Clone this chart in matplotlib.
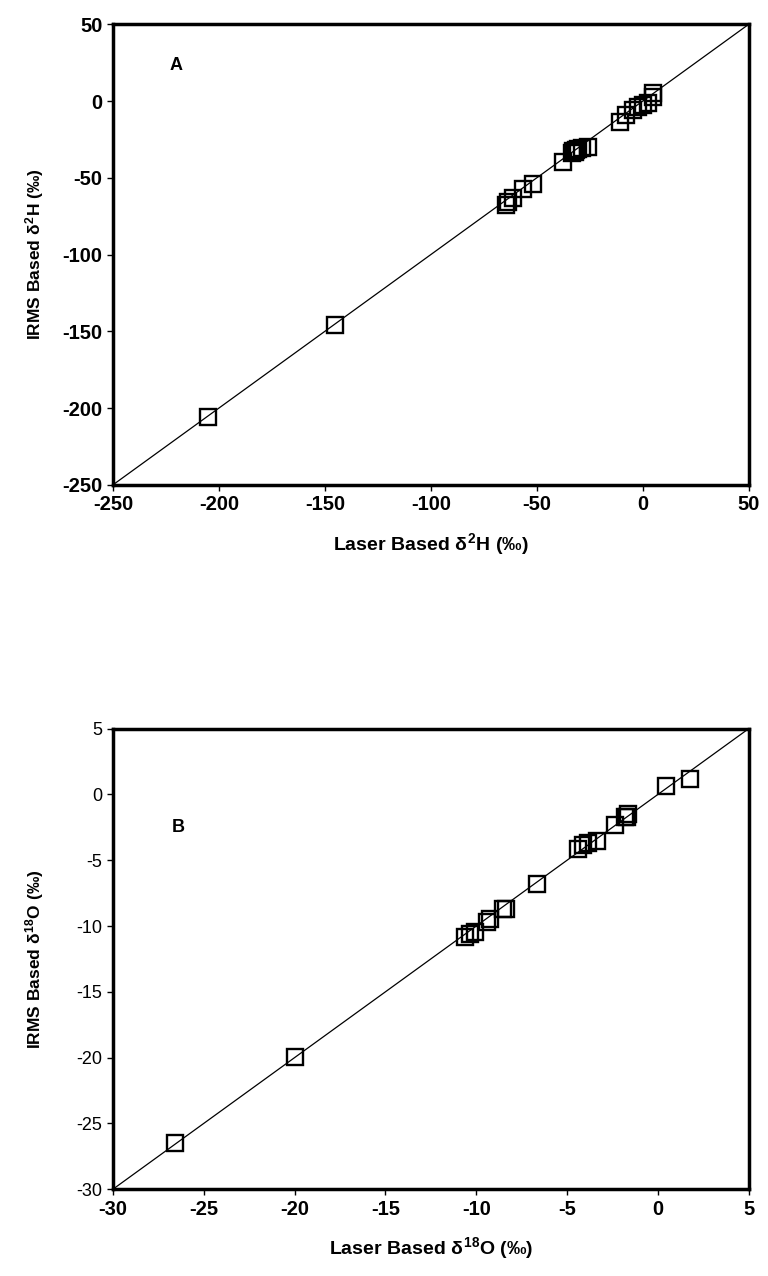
import matplotlib.pyplot as plt

plt.rcParams['font.family'] = ['Liberation Sans', 'DejaVu Sans']
plt.rcParams['mathtext.fontset'] = 'custom'
plt.rcParams['mathtext.rm'] = 'Liberation Sans:bold'
plt.rcParams['mathtext.it'] = 'Liberation Sans:bold'

# panel A: delta 2H, laser vs IRMS
h_laser = [-205.0, -145.3, -64.6, -63.5, -61.2, -56.7, -51.7, -37.6, -33.6, -33.0, -32.1,
           -31.5, -30.5, -28.9, -25.8, -10.8, -7.7, -4.6, -2.2, 0.1, 2.5, 4.9, 4.9]
h_irms = [-205.5, -145.8, -67.8, -65.6, -63.4, -57.5, -54.1, -39.6, -34.1, -32.5, -33.1,
          -32.0, -31.5, -30.9, -30.2, -13.6, -9.2, -6.0, -3.8, -2.7, -1.6, 4.9, 2.7]

# panel B: delta 18O
o_laser = [-26.6, -19.98, -10.63, -10.35, -10.08, -9.43, -9.25, -8.52, -8.37, -6.68,
           -4.39, -4.12, -3.84, -3.38, -2.37, -1.73, -1.65, -1.8, 0.47, 1.76]
o_irms = [-26.5, -19.96, -10.8, -10.59, -10.47, -9.7, -9.45, -8.7, -8.7, -6.8,
          -4.13, -3.88, -3.71, -3.56, -2.29, -1.68, -1.5, -1.75, 0.67, 1.18]

h_ticks = [-250, -200, -150, -100, -50, 0, 50]
o_ticks = [-30, -25, -20, -15, -10, -5, 0, 5]

fig = plt.figure(figsize=(7.68, 12.76), dpi=100)
axA = fig.add_axes([0.147, 0.620, 0.828, 0.361])
axB = fig.add_axes([0.147, 0.068, 0.828, 0.361])


def style(ax, lo, hi, ticks, ybold):
    ax.plot([lo, hi], [lo, hi], color='black', lw=0.9, zorder=1)
    ax.set_xlim(lo, hi)
    ax.set_ylim(lo, hi)
    ax.set_xticks(ticks)
    ax.set_yticks(ticks)
    ax.set_xticklabels([str(t) for t in ticks], fontsize=14.5, fontweight='bold')
    if ybold:
        ax.set_yticklabels([str(t) for t in ticks], fontsize=14.5, fontweight='bold')
    else:
        ax.set_yticklabels([str(t) for t in ticks], fontsize=13)
    for s in ax.spines.values():
        s.set_linewidth(2.5)
    ax.tick_params(direction='out', length=4.5, width=1, pad=3)
    ax.yaxis.set_label_coords(-0.105, 0.5)


style(axA, -250, 50, h_ticks, True)
axA.plot(h_laser, h_irms, 's', ms=11, mfc='none', mec='black', mew=1.7, zorder=2)
axA.text(0.1, 0.91, 'A', transform=axA.transAxes, fontsize=13, fontweight='bold',
         ha='center', va='center')
axA.set_xlabel(r'Laser Based $\delta^{2}$H (‰)', fontsize=14, fontweight='bold', labelpad=12)
axA.set_ylabel(r'IRMS Based $\delta^{2}$H (‰)', fontsize=12.5, fontweight='bold')

style(axB, -30, 5, o_ticks, False)
axB.plot(o_laser, o_irms, 's', ms=11, mfc='none', mec='black', mew=1.7, zorder=2)
axB.text(-26.4, -2.5, 'B', fontsize=13, fontweight='bold', ha='center', va='center')
axB.set_xlabel(r'Laser Based $\delta^{18}$O (‰)', fontsize=14, fontweight='bold', labelpad=12)
axB.set_ylabel(r'IRMS Based $\delta^{18}$O (‰)', fontsize=12.5, fontweight='bold')

fig.savefig('out.png', dpi=100)
